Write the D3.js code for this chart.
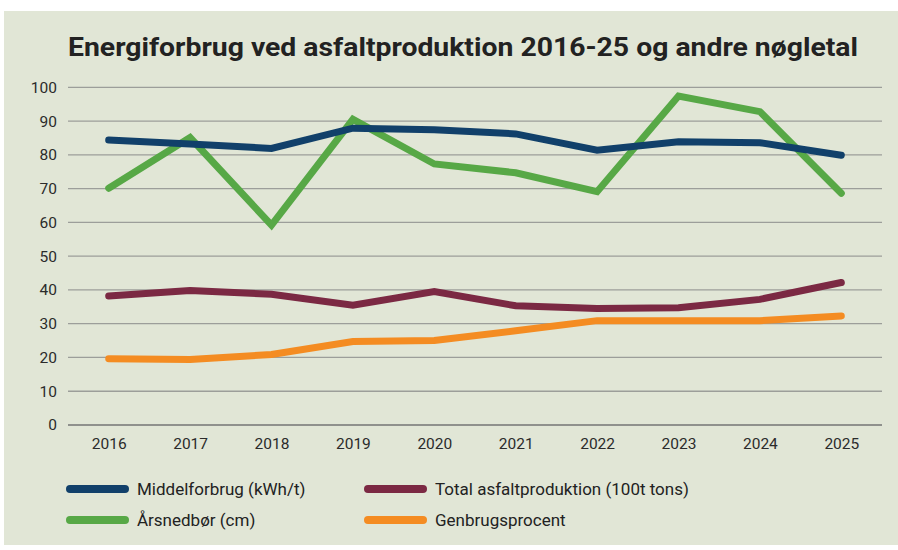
<!DOCTYPE html>
<html>
<head>
<meta charset="utf-8">
<script src="https://cdn.jsdelivr.net/npm/d3@7"></script>
<style>
  body { margin: 0; background: #fff; }
  svg { display: block; }
</style>
</head>
<body>
<svg id="chart"></svg>
<script>
// data
const years = ['2016','2017','2018','2019','2020','2021','2022','2023','2024','2025'];
const middelforbrug = [84.4, 83.2, 81.9, 87.9, 87.4, 86.2, 81.4, 83.9, 83.6, 79.9];
const aarsnedboer = [70.1, 85.1, 59.2, 90.5, 77.3, 74.7, 69.1, 97.4, 92.8, 68.6];
const asfaltproduktion = [38.2, 39.8, 38.7, 35.5, 39.5, 35.3, 34.5, 34.7, 37.2, 42.2];
const genbrugsprocent = [19.6, 19.4, 20.9, 24.7, 25.0, 27.9, 30.9, 30.9, 30.9, 32.3];
const yTicks = [0, 10, 20, 30, 40, 50, 60, 70, 80, 90, 100];

const series = [
  { name: 'Middelforbrug (kWh/t)', values: middelforbrug, color: '#11406a' },
  { name: 'Årsnedbør (cm)', values: aarsnedboer, color: '#57a846' },
  { name: 'Total asfaltproduktion (100t tons)', values: asfaltproduktion, color: '#7b2943' },
  { name: 'Genbrugsprocent', values: genbrugsprocent, color: '#f48c22' }
];
// draw order: green under blue
const drawOrder = [1, 0, 2, 3];

const W = 898, H = 550;
const svg = d3.select('#chart').attr('width', W).attr('height', H);

// panel background
svg.append('rect')
  .attr('x', 4).attr('y', 11)
  .attr('width', W - 4).attr('height', 534)
  .attr('fill', '#e1e6d6');

// title
svg.append('text')
  .attr('x', 463).attr('y', 56)
  .attr('text-anchor', 'middle')
  .attr('font-family', 'Roboto, "Liberation Sans", sans-serif')
  .attr('font-weight', 700)
  .attr('font-size', 26)
  .attr('fill', '#222')
  .attr('textLength', 790)
  .attr('lengthAdjust', 'spacingAndGlyphs')
  .text('Energiforbrug ved asfaltproduktion 2016-25 og andre nøgletal');

const plotLeft = 68, plotRight = 882, plotTop = 87.3, plotBottom = 425;

const x = d3.scalePoint().domain(years).range([plotLeft, plotRight]).padding(0.5);
const y = d3.scaleLinear().domain([0, 100]).range([plotBottom, plotTop]);

// gridlines
svg.append('g')
  .selectAll('line')
  .data(yTicks)
  .join('line')
    .attr('x1', plotLeft).attr('x2', plotRight)
    .attr('y1', d => y(d)).attr('y2', d => y(d))
    .attr('stroke', d => d === 0 ? '#8f918d' : '#9c9e9a')
    .attr('stroke-width', d => d === 0 ? 2.2 : 1.3);

// y axis labels
const yAxis = d3.axisLeft(y).tickValues(yTicks).tickSize(0).tickPadding(0);
const gy = svg.append('g')
  .attr('transform', `translate(${plotLeft - 11},0)`)
  .call(yAxis);
gy.select('.domain').remove();
gy.selectAll('text')
  .attr('font-family', 'Roboto, "Liberation Sans", sans-serif')
  .attr('font-size', 15.5)
  .attr('fill', '#2b2b2b');

// x axis labels
const xAxis = d3.axisBottom(x).tickSize(0).tickPadding(0);
const gx = svg.append('g')
  .attr('transform', `translate(0,${plotBottom + 13})`)
  .call(xAxis);
gx.select('.domain').remove();
gx.selectAll('text')
  .attr('font-family', 'Roboto, "Liberation Sans", sans-serif')
  .attr('font-size', 15.5)
  .attr('fill', '#2b2b2b');

// lines
const line = d3.line()
  .x((d, i) => x(years[i]))
  .y(d => y(d));

svg.append('g')
  .selectAll('path')
  .data(drawOrder.map(i => series[i]))
  .join('path')
    .attr('d', d => line(d.values))
    .attr('fill', 'none')
    .attr('stroke', d => d.color)
    .attr('stroke-width', 7)
    .attr('stroke-linecap', 'round')
    .attr('stroke-linejoin', 'miter');

// legend
const legendPos = [
  { x: 70, y: 489 }, { x: 70, y: 520 },
  { x: 368, y: 489 }, { x: 368, y: 520 }
];
const lg = svg.append('g')
  .selectAll('g')
  .data(series)
  .join('g')
    .attr('transform', (d, i) => `translate(${legendPos[i].x},${legendPos[i].y})`);
lg.append('line')
  .attr('x1', 0).attr('x2', 55)
  .attr('y1', 0).attr('y2', 0)
  .attr('stroke', d => d.color)
  .attr('stroke-width', 8)
  .attr('stroke-linecap', 'round');
lg.append('text')
  .attr('x', 67).attr('y', 0)
  .attr('dy', '0.35em')
  .attr('font-family', '"Liberation Sans Narrow", "Roboto", sans-serif')
  .attr('font-size', 17)
  .attr('fill', '#222')
  .text(d => d.name);
</script>
</body>
</html>
